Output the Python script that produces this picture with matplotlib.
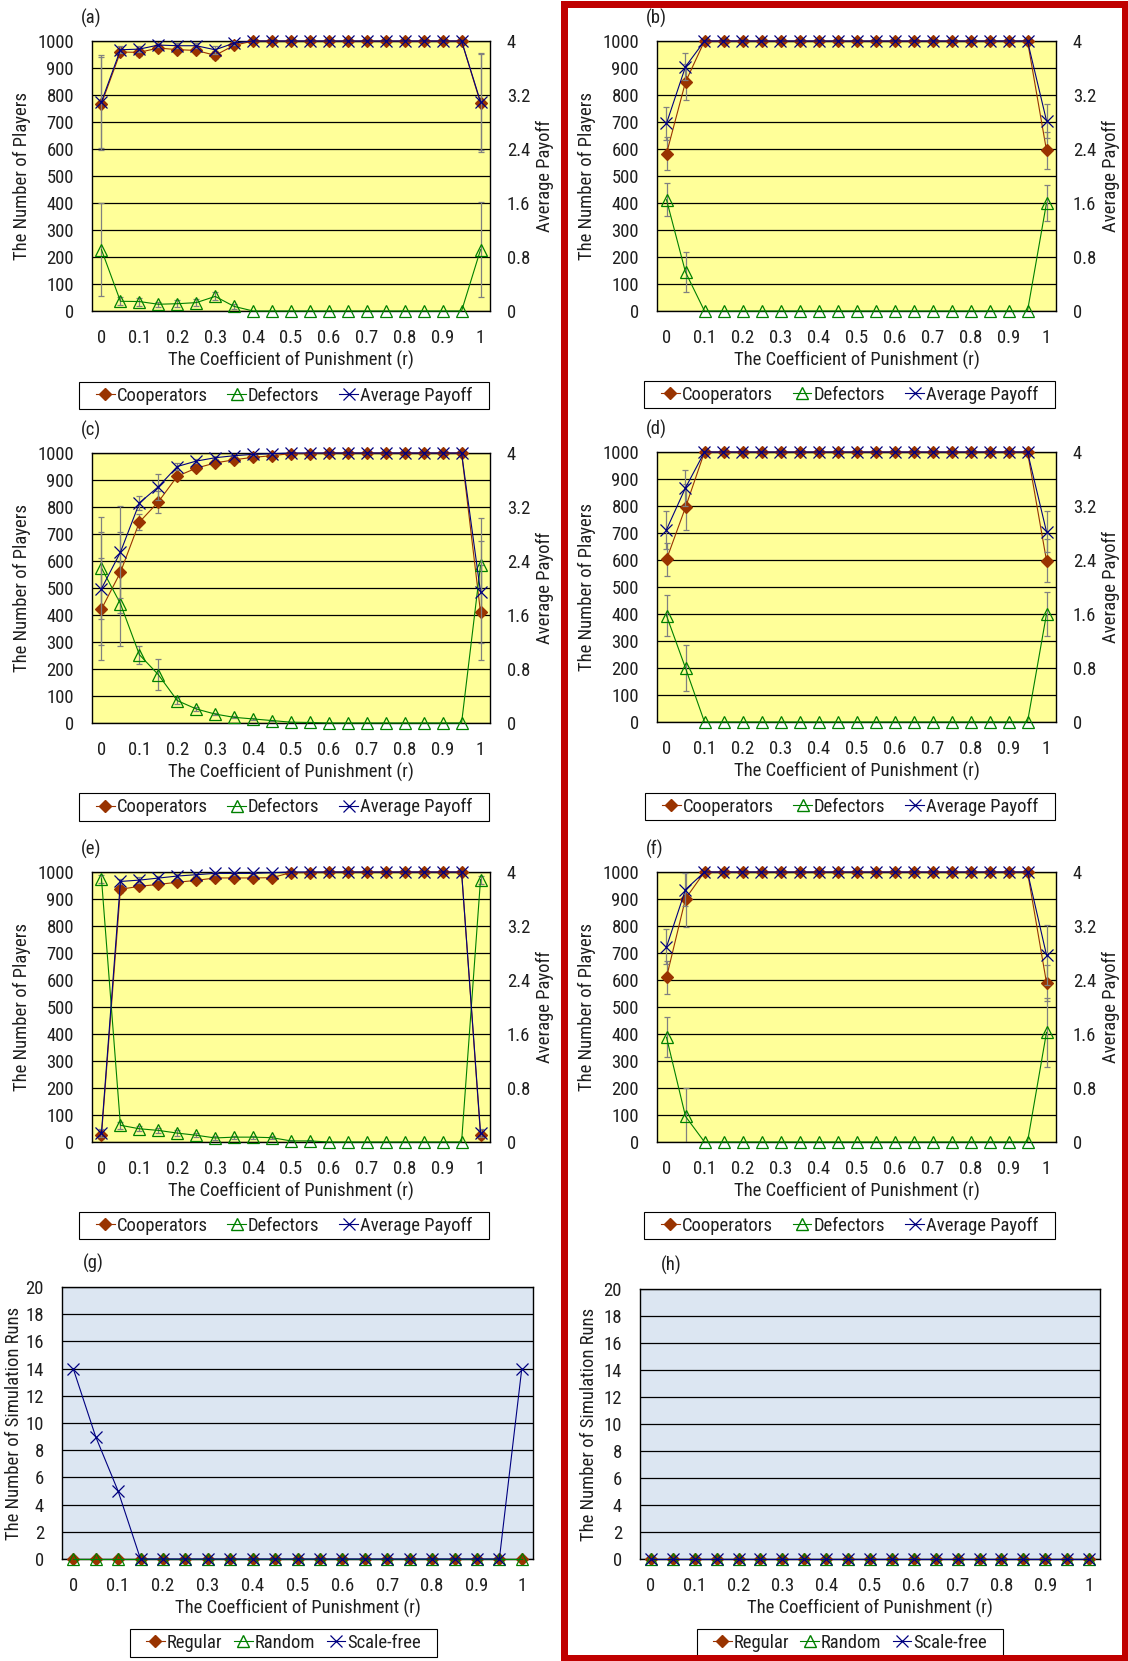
import os
import matplotlib
matplotlib.use('Agg')
import matplotlib.pyplot as plt
from matplotlib import font_manager
from matplotlib.lines import Line2D
from matplotlib.patches import Rectangle

# the original uses a narrow gothic face; use a narrow/condensed sans if one is installed
family, stretch = 'Liberation Sans', 'normal'
bad = ('bold', 'italic', 'oblique', 'light', 'thin', 'medium', 'black', 'extra', 'ultra', 'semi')
found = {}
for f in font_manager.fontManager.ttflist:
    fn = os.path.basename(f.fname).lower()
    if ('narrow' in fn or 'condensed' in fn) and not any(k in fn for k in bad):
        found.setdefault(f.name, f)
for pref in ['Liberation Sans Narrow', 'Roboto Condensed', 'DejaVu Sans', 'Noto Sans',
             'Open Sans', 'Open Sans Condensed', 'DejaVu Sans Condensed']:
    if pref in found:
        family, stretch = found[pref].name, found[pref].stretch
        break
plt.rcParams['font.family'] = [family, 'DejaVu Sans']
plt.rcParams['font.stretch'] = stretch

# ---- data ----
r = [0.00, 0.05, 0.10, 0.15, 0.20, 0.25, 0.30, 0.35, 0.40, 0.45, 0.50,
     0.55, 0.60, 0.65, 0.70, 0.75, 0.80, 0.85, 0.90, 0.95, 1.00]
xtick_vals = [0, 0.1, 0.2, 0.3, 0.4, 0.5, 0.6, 0.7, 0.8, 0.9, 1]
xtick_labels = ['0', '0.1', '0.2', '0.3', '0.4', '0.5', '0.6', '0.7', '0.8', '0.9', '1']
pay_ticks = [0, 0.8, 1.6, 2.4, 3.2, 4]
pay_tick_labels = ['0', '0.8', '1.6', '2.4', '3.2', '4']

# (a)
coop_a = [768, 959, 958, 974, 968, 965, 947, 984, 1000, 1000, 1000, 1000, 1000, 1000, 1000, 1000, 1000, 1000, 1000, 1000, 770]
def_a = [227, 36, 35, 25, 27, 31, 54, 17, 0, 0, 0, 0, 0, 0, 0, 0, 0, 0, 0, 0, 227]
pay_a = [3.10, 3.87, 3.88, 3.94, 3.93, 3.93, 3.87, 3.97, 4, 4, 4, 4, 4, 4, 4, 4, 4, 4, 4, 4, 3.10]
coop_err_a = [173, 12, 12, 8, 10, 10, 15, 8, 0, 0, 0, 0, 0, 0, 0, 0, 0, 0, 0, 0, 180]
def_err_a = [173, 15, 15, 10, 12, 12, 15, 10, 0, 0, 0, 0, 0, 0, 0, 0, 0, 0, 0, 0, 176]
pay_err_a = [0.69, 0.05, 0.05, 0.03, 0.04, 0.04, 0.06, 0.03, 0, 0, 0, 0, 0, 0, 0, 0, 0, 0, 0, 0, 0.72]

# (b)
coop_b = [583, 848, 1000, 1000, 1000, 1000, 1000, 1000, 1000, 1000, 1000, 1000, 1000, 1000, 1000, 1000, 1000, 1000, 1000, 1000, 595]
def_b = [412, 144, 0, 0, 0, 0, 0, 0, 0, 0, 0, 0, 0, 0, 0, 0, 0, 0, 0, 0, 400]
pay_b = [2.78, 3.62, 4, 4, 4, 4, 4, 4, 4, 4, 4, 4, 4, 4, 4, 4, 4, 4, 4, 4, 2.82]
coop_err_b = [62, 65, 0, 0, 0, 0, 0, 0, 0, 0, 0, 0, 0, 0, 0, 0, 0, 0, 0, 0, 68]
def_err_b = [62, 73, 0, 0, 0, 0, 0, 0, 0, 0, 0, 0, 0, 0, 0, 0, 0, 0, 0, 0, 68]
pay_err_b = [0.24, 0.20, 0, 0, 0, 0, 0, 0, 0, 0, 0, 0, 0, 0, 0, 0, 0, 0, 0, 0, 0.25]

# (c)
coop_c = [422, 558, 744, 819, 914, 944, 963, 975, 984, 990, 998, 998, 1000, 1000, 1000, 1000, 1000, 1000, 1000, 1000, 410]
def_c = [574, 442, 253, 179, 83, 52, 33, 21, 15, 9, 3, 2, 0, 0, 0, 0, 0, 0, 0, 0, 584]
pay_c = [1.99, 2.53, 3.26, 3.50, 3.80, 3.88, 3.93, 3.96, 3.98, 3.99, 4, 4, 4, 4, 4, 4, 4, 4, 4, 4, 1.94]
coop_err_c = [190, 150, 30, 40, 10, 8, 5, 4, 3, 2, 1, 1, 0, 0, 0, 0, 0, 0, 0, 0, 175]
def_err_c = [190, 155, 33, 57, 12, 8, 5, 4, 3, 2, 1, 1, 0, 0, 0, 0, 0, 0, 0, 0, 175]
pay_err_c = [0.84, 0.68, 0.11, 0.19, 0.05, 0.03, 0.02, 0.01, 0.01, 0.01, 0, 0, 0, 0, 0, 0, 0, 0, 0, 0, 0.75]

# (d)
coop_d = [602, 795, 1000, 1000, 1000, 1000, 1000, 1000, 1000, 1000, 1000, 1000, 1000, 1000, 1000, 1000, 1000, 1000, 1000, 1000, 598]
def_d = [394, 200, 0, 0, 0, 0, 0, 0, 0, 0, 0, 0, 0, 0, 0, 0, 0, 0, 0, 0, 400]
pay_d = [2.85, 3.47, 4, 4, 4, 4, 4, 4, 4, 4, 4, 4, 4, 4, 4, 4, 4, 4, 4, 4, 2.82]
coop_err_d = [62, 85, 0, 0, 0, 0, 0, 0, 0, 0, 0, 0, 0, 0, 0, 0, 0, 0, 0, 0, 80]
def_err_d = [76, 87, 0, 0, 0, 0, 0, 0, 0, 0, 0, 0, 0, 0, 0, 0, 0, 0, 0, 0, 80]
pay_err_d = [0.28, 0.27, 0, 0, 0, 0, 0, 0, 0, 0, 0, 0, 0, 0, 0, 0, 0, 0, 0, 0, 0.30]

# (e)
coop_e = [25, 936, 947, 954, 962, 969, 978, 978, 978, 979, 998, 998, 1000, 1000, 1000, 1000, 1000, 1000, 1000, 1000, 25]
def_e = [975, 62, 49, 43, 33, 25, 15, 18, 18, 16, 4, 4, 0, 0, 0, 0, 0, 0, 0, 0, 972]
pay_e = [0.14, 3.86, 3.88, 3.91, 3.94, 3.96, 3.98, 3.98, 3.98, 3.99, 4, 4, 4, 4, 4, 4, 4, 4, 4, 4, 0.14]
coop_err_e = [15, 12, 10, 10, 10, 8, 6, 6, 6, 6, 2, 2, 0, 0, 0, 0, 0, 0, 0, 0, 15]
def_err_e = [15, 12, 10, 10, 10, 8, 6, 6, 6, 6, 2, 2, 0, 0, 0, 0, 0, 0, 0, 0, 15]
pay_err_e = [0.06, 0.04, 0.04, 0.03, 0.03, 0.02, 0.02, 0.02, 0.02, 0.01, 0, 0, 0, 0, 0, 0, 0, 0, 0, 0, 0.06]

# (f)
coop_f = [610, 901, 1000, 1000, 1000, 1000, 1000, 1000, 1000, 1000, 1000, 1000, 1000, 1000, 1000, 1000, 1000, 1000, 1000, 1000, 590]
def_f = [388, 95, 0, 0, 0, 0, 0, 0, 0, 0, 0, 0, 0, 0, 0, 0, 0, 0, 0, 0, 406]
pay_f = [2.89, 3.74, 4, 4, 4, 4, 4, 4, 4, 4, 4, 4, 4, 4, 4, 4, 4, 4, 4, 4, 2.77]
coop_err_f = [60, 105, 0, 0, 0, 0, 0, 0, 0, 0, 0, 0, 0, 0, 0, 0, 0, 0, 0, 0, 67]
def_err_f = [75, 105, 0, 0, 0, 0, 0, 0, 0, 0, 0, 0, 0, 0, 0, 0, 0, 0, 0, 0, 128]
pay_err_f = [0.26, 0.24, 0, 0, 0, 0, 0, 0, 0, 0, 0, 0, 0, 0, 0, 0, 0, 0, 0, 0, 0.45]

# (g) and (h): number of simulation runs
regular_g = [0, 0, 0, 0, 0, 0, 0, 0, 0, 0, 0, 0, 0, 0, 0, 0, 0, 0, 0, 0, 0]
random_g = [0, 0, 0, 0, 0, 0, 0, 0, 0, 0, 0, 0, 0, 0, 0, 0, 0, 0, 0, 0, 0]
scalefree_g = [14, 9, 5, 0, 0, 0, 0, 0, 0, 0, 0, 0, 0, 0, 0, 0, 0, 0, 0, 0, 14]
regular_h = [0, 0, 0, 0, 0, 0, 0, 0, 0, 0, 0, 0, 0, 0, 0, 0, 0, 0, 0, 0, 0]
random_h = [0, 0, 0, 0, 0, 0, 0, 0, 0, 0, 0, 0, 0, 0, 0, 0, 0, 0, 0, 0, 0]
scalefree_h = [0, 0, 0, 0, 0, 0, 0, 0, 0, 0, 0, 0, 0, 0, 0, 0, 0, 0, 0, 0, 0]

# ---- style ----
W, H = 1128, 1661
TXT = '#1f1f1f'
BROWN = '#993300'
GREEN = '#008000'
NAVY = '#000080'
GREY = '#808080'
YELLOW = '#FFFF99'
BLUE = '#DCE6F2'
MS_D, MS_T, MS_X = 6, 8.5, 8.5

plt.rcParams['text.color'] = TXT
plt.rcParams['xtick.color'] = TXT
plt.rcParams['ytick.color'] = TXT

fig = plt.figure(figsize=(W / 100, H / 100), dpi=100)

# size the text so the axis title is about as wide as in the original (~251 px),
# while keeping the glyph height near 13 pt
probe = fig.text(0, 0, 'The Coefficient of Punishment (r)', fontsize=13)
probe_w = probe.get_window_extent(renderer=fig.canvas.get_renderer()).width
probe.remove()
FS = min(14.0, (13 * (13 * 251 / probe_w)) ** 0.5)
plt.rcParams['font.size'] = FS


def fx(px):
    return px / W


def fy(py):
    return 1 - py / H


def add_ax(left, top, right, bottom):
    return fig.add_axes([fx(left), fy(bottom), (right - left) / W, (bottom - top) / H])


def style_ax(ax, face, ymax, ystep):
    ax.set_facecolor(face)
    ax.set_xlim(-0.025, 1.025)
    ax.set_ylim(0, ymax)
    ax.set_yticks([i * ystep for i in range(int(round(ymax / ystep)) + 1)])
    ax.set_xticks(xtick_vals, xtick_labels)
    ax.tick_params(length=0, labelsize=FS)
    ax.tick_params(axis='x', pad=13)
    ax.tick_params(axis='y', pad=13)
    ax.grid(axis='y', color='black', lw=0.9)
    ax.set_axisbelow(True)
    for s in ax.spines.values():
        s.set_color('black')
        s.set_linewidth(1.0)


def series(ax, y, err, color, marker, ms, mfc):
    xs = [x for x, e in zip(r, err) if e > 0]
    ys = [v for v, e in zip(y, err) if e > 0]
    es = [e for e in err if e > 0]
    if es:
        ax.errorbar(xs, ys, yerr=es, fmt='none', ecolor=GREY, elinewidth=0.9,
                    capsize=2, capthick=0.9, zorder=2)
    ax.plot(r, y, color=color, lw=0.8, marker=marker, ms=ms, mfc=mfc,
            mec=color, mew=0.9, zorder=3, clip_on=False)


def handles3():
    return [Line2D([], [], color=BROWN, lw=0.8, marker='D', ms=MS_D, mfc=BROWN, mec=BROWN),
            Line2D([], [], color=GREEN, lw=0.8, marker='^', ms=MS_T, mfc='none', mec=GREEN),
            Line2D([], [], color=NAVY, lw=0.8, marker='x', ms=MS_X, mew=0.9)]


def legend(labels, left, top, right, bottom, inset):
    fig.legend(handles3(), labels, loc='center',
               bbox_to_anchor=(fx(left + inset), fy(bottom),
                               (right - left - 2 * inset) / W, (bottom - top) / H),
               mode='expand', ncol=3, fontsize=FS, frameon=False,
               borderpad=0.0, handlelength=1.0, handletextpad=0.1,
               columnspacing=0.5, borderaxespad=0)
    fig.patches.append(Rectangle((fx(left), fy(bottom)), (right - left) / W, (bottom - top) / H,
                                 transform=fig.transFigure, fill=False,
                                 edgecolor='black', lw=0.8))


def player_panel(box, letter, coop, defe, pay, coop_err, def_err, pay_err, leg_box):
    left, top, right, bottom = box
    ax = add_ax(left, top, right, bottom)
    style_ax(ax, YELLOW, 1000, 100)
    series(ax, coop, coop_err, BROWN, 'D', MS_D, BROWN)
    series(ax, defe, def_err, GREEN, '^', MS_T, 'none')
    ax2 = ax.twinx()
    ax2.set_ylim(0, 4)
    ax2.set_yticks(pay_ticks, pay_tick_labels)
    ax2.tick_params(length=0, labelsize=FS, pad=12)
    for s in ax2.spines.values():
        s.set_visible(False)
    ax2.set_xlim(-0.025, 1.025)
    series(ax2, pay, pay_err, NAVY, 'x', MS_X, NAVY)
    cx = (left + right) / 2
    cy = (top + bottom) / 2
    fig.text(fx(left - 11), fy(top - 23), letter, ha='left', va='center', fontsize=FS)
    fig.text(fx(cx), fy(bottom + 49), 'The Coefficient of Punishment (r)',
             ha='center', va='center', fontsize=FS)
    fig.text(fx(left - 70), fy(cy), 'The Number of Players', rotation=90,
             ha='center', va='center', fontsize=FS)
    fig.text(fx(right + 55), fy(cy), 'Average Payoff', rotation=90,
             ha='center', va='center', fontsize=FS)
    legend(['Cooperators', 'Defectors', 'Average Payoff'], *leg_box, inset=17)


def runs_panel(box, letter, reg, rnd, sf, ylab_x, leg_box):
    left, top, right, bottom = box
    ax = add_ax(left, top, right, bottom)
    style_ax(ax, BLUE, 20, 2)
    zeros = [0] * len(r)
    series(ax, reg, zeros, BROWN, 'D', MS_D, BROWN)
    series(ax, rnd, zeros, GREEN, '^', MS_T, 'none')
    series(ax, sf, zeros, NAVY, 'x', MS_X, NAVY)
    ax.set_xlim(-0.025, 1.025)
    fig.text(fx(left + 21), fy(top - 24), letter, ha='left', va='center', fontsize=FS)
    fig.text(fx((left + right) / 2), fy(bottom + 49), 'The Coefficient of Punishment (r)',
             ha='center', va='center', fontsize=FS)
    fig.text(fx(ylab_x), fy((top + bottom) / 2), 'The Number of Simulation Runs',
             rotation=90, ha='center', va='center', fontsize=FS)
    legend(['Regular', 'Random', 'Scale-free'], *leg_box, inset=16)


player_panel((92, 41, 490, 311), '(a)', coop_a, def_a, pay_a, coop_err_a, def_err_a, pay_err_a,
             (79, 382, 489, 409))
player_panel((657, 41, 1056, 311), '(b)', coop_b, def_b, pay_b, coop_err_b, def_err_b, pay_err_b,
             (644, 381, 1055, 408))
player_panel((92, 453, 490, 723), '(c)', coop_c, def_c, pay_c, coop_err_c, def_err_c, pay_err_c,
             (79, 793, 489, 821))
player_panel((657, 452, 1056, 722), '(d)', coop_d, def_d, pay_d, coop_err_d, def_err_d, pay_err_d,
             (645, 793, 1055, 820))
player_panel((92, 872, 490, 1142), '(e)', coop_e, def_e, pay_e, coop_err_e, def_err_e, pay_err_e,
             (79, 1212, 489, 1239))
player_panel((657, 872, 1056, 1142), '(f)', coop_f, def_f, pay_f, coop_err_f, def_err_f, pay_err_f,
             (644, 1212, 1055, 1239))
runs_panel((62, 1287, 533, 1559), '(g)', regular_g, random_g, scalefree_g, 14,
           (130, 1629, 437, 1657))
runs_panel((640, 1289, 1100, 1559), '(h)', regular_h, random_h, scalefree_h, 589,
           (697, 1629, 1003, 1657))

# red frame round the right column
lw_px = 7
fig.patches.append(Rectangle((fx(560 + lw_px / 2), fy(H - lw_px / 2)),
                             (W - 560 - lw_px) / W, (H - lw_px) / H,
                             transform=fig.transFigure, fill=False,
                             edgecolor='#C00000', lw=lw_px * 0.72, zorder=10))

fig.savefig('out.png', dpi=100)
